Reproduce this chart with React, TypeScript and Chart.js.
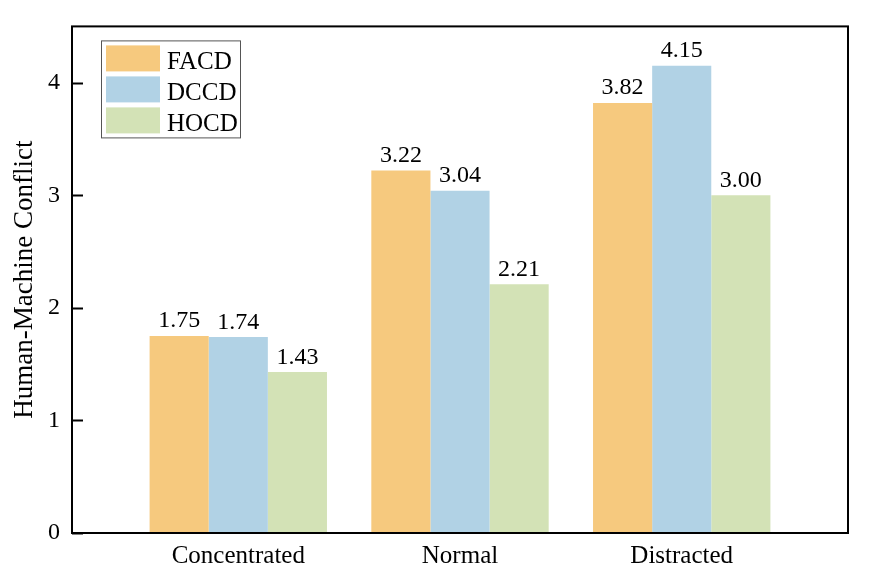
import React, { useEffect, useRef } from "react";
import { Chart, registerables } from "chart.js";

Chart.register(...registerables);

const categories = ["Concentrated", "Normal", "Distracted"];
const seriesNames = ["FACD", "DCCD", "HOCD"];
const facdValues = [1.75, 3.22, 3.82];
const dccdValues = [1.74, 3.04, 4.15];
const hocdValues = [1.43, 2.21, 3.0];
const yTickValues = [0, 1, 2, 3, 4];
const seriesColors = ["#F6C97E", "#B1D2E5", "#D3E2B6"];
const yTitle = "Human-Machine Conflict";

const FONT = "'Liberation Serif', 'Times New Roman', serif";
const X_MIN = -0.75;
const X_MAX = 2.75;

const overlayPlugin = {
  id: "overlay",
  afterDatasetsDraw(chart: any) {
    const { ctx, chartArea, scales } = chart;
    const { left, right, top, bottom } = chartArea;
    ctx.save();
    // frame
    ctx.strokeStyle = "#000";
    ctx.lineWidth = 2;
    ctx.strokeRect(left, top, right - left, bottom - top);
    // inward y ticks
    const y = scales.y;
    yTickValues.forEach((v) => {
      const py = Math.round(y.getPixelForValue(v)) + 0.5;
      ctx.beginPath();
      ctx.moveTo(left, py);
      ctx.lineTo(left + 11, py);
      ctx.stroke();
    });
    // data labels
    ctx.fillStyle = "#000";
    ctx.font = `24px ${FONT}`;
    ctx.textAlign = "center";
    ctx.textBaseline = "alphabetic";
    chart.data.datasets.forEach((ds: any, di: number) => {
      const meta = chart.getDatasetMeta(di);
      meta.data.forEach((bar: any, i: number) => {
        const v = ds.data[i].y;
        ctx.fillText(v.toFixed(2), bar.x, bar.y - 8.5);
      });
    });
    // legend
    const bx = left + 29.5;
    const by = top + 14.5;
    ctx.strokeStyle = "#555";
    ctx.lineWidth = 1;
    ctx.fillStyle = "#fff";
    ctx.fillRect(bx, by, 139, 97);
    ctx.strokeRect(bx, by, 139, 97);
    ctx.font = `25px ${FONT}`;
    ctx.textAlign = "left";
    chart.data.datasets.forEach((ds: any, di: number) => {
      const sy = top + 19 + di * 31;
      ctx.fillStyle = ds.backgroundColor;
      ctx.fillRect(left + 34, sy, 54, 26);
      ctx.fillStyle = "#000";
      ctx.fillText(ds.label, left + 95, sy + 23.5);
    });
    ctx.restore();
  },
};

export default function App() {
  const canvasRef = useRef<HTMLCanvasElement | null>(null);

  useEffect(() => {
    if (!canvasRef.current) return;
    const seriesValues = [facdValues, dccdValues, hocdValues];
    const chart = new Chart(canvasRef.current, {
      type: "bar",
      data: {
        datasets: seriesNames.map((name, si) => ({
          label: name,
          data: seriesValues[si].map((v, i) => ({ x: i, y: v })),
          backgroundColor: seriesColors[si],
          borderWidth: 0,
          categoryPercentage: 0.8,
          barPercentage: 1.0,
        })),
      },
      options: {
        animation: false,
        responsive: true,
        maintainAspectRatio: false,
        layout: { padding: { top: 24, right: 28, left: 0, bottom: 0 } },
        plugins: { legend: { display: false }, tooltip: { enabled: false } },
        scales: {
          x: {
            type: "linear",
            offset: false,
            bounds: "data",
            min: X_MIN,
            max: X_MAX,
            afterDataLimits: (s: any) => {
              s.min = X_MIN;
              s.max = X_MAX;
            },
            afterBuildTicks: (s: any) => {
              s.ticks = categories.map((_, i) => ({ value: i }));
              s.min = X_MIN;
              s.max = X_MAX;
            },
            afterFit: (s: any) => {
              s.height = 53;
            },
            grid: { display: false, drawTicks: false, offset: false },
            border: { display: false },
            ticks: {
              padding: 8,
              color: "#000",
              font: { family: FONT, size: 25 },
              maxRotation: 0,
              autoSkip: false,
              callback: (v: any) => categories[v as number] ?? "",
            },
          },
          y: {
            type: "linear",
            min: 0,
            max: 4.5,
            afterBuildTicks: (s: any) => {
              s.ticks = yTickValues.map((v) => ({ value: v }));
            },
            afterFit: (s: any) => {
              s.width = 72;
            },
            grid: { display: false, drawTicks: false },
            border: { display: false },
            ticks: {
              padding: 12,
              color: "#000",
              font: { family: FONT, size: 24 },
              callback: (v: any) => String(v),
            },
            title: {
              display: true,
              text: yTitle,
              color: "#000",
              font: { family: FONT, size: 27 },
              padding: { top: 8.5, bottom: 0 },
            },
          },
        },
      } as any,
      plugins: [overlayPlugin],
    });
    return () => chart.destroy();
  }, []);

  return (
    <div style={{ position: "fixed", left: 0, top: 0, width: 876, height: 586, background: "#fff" }}>
      <canvas ref={canvasRef} />
    </div>
  );
}
